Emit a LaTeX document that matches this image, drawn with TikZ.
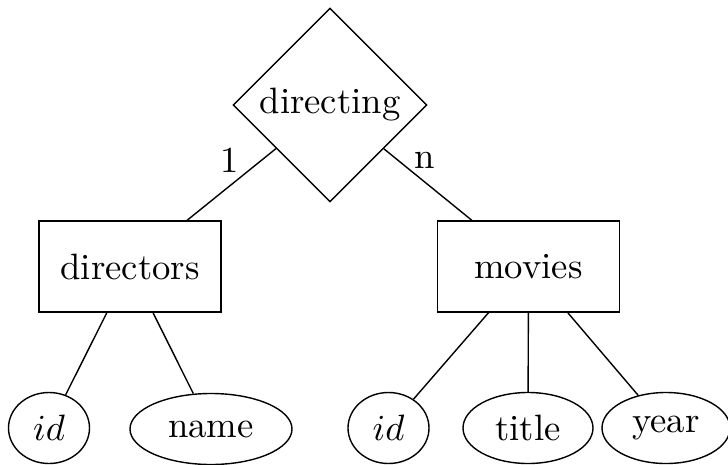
\documentclass[tikz,border=0pt]{standalone}
\usetikzlibrary{shapes.geometric}
\newcommand\bigtxt[1]{\scalebox{3.67}{#1}}
\begin{document}
\begin{tikzpicture}[x=1pt,y=-1pt,
  conn/.style={line width=1.4pt},
  rel/.style={draw,line width=1.4pt,diamond,aspect=1,minimum width=194pt,minimum height=194pt,inner sep=0pt},
  ent/.style={draw,line width=1.4pt,rectangle,minimum width=182pt,minimum height=91pt,inner sep=0pt},
  attr/.style={draw,line width=1.4pt,ellipse,inner sep=0pt,minimum height=71pt}]
\useasboundingbox (0,0) rectangle (728,464);
\node[rel] (dirg) at (330,105) {\bigtxt{directing}};
\node[ent] (drs) at (130,266.5) {\bigtxt{directors}};
\node[ent] (mov) at (528.5,266.5) {\bigtxt{movies}};
\node[attr,minimum width=81pt] (did) at (49,428) {\bigtxt{$id$}};
\node[attr,minimum width=162pt] (dname) at (211,429) {\bigtxt{name}};
\node[attr,minimum width=81pt] (mid) at (388.5,428) {\bigtxt{$id$}};
\node[attr,minimum width=130pt] (mtitle) at (528,428) {\bigtxt{title}};
\node[attr,minimum width=128pt] (myear) at (666,428) {\bigtxt{year}};
\node (one) at (230,160) {\bigtxt{1}};
\node (nn) at (425,160) {\bigtxt{n}};
\draw[conn] (dirg) -- (drs);
\draw[conn] (dirg) -- (mov);
\draw[conn] (drs) -- (did);
\draw[conn] (drs) -- (dname);
\draw[conn] (mov) -- (mid);
\draw[conn] (mov) -- (mtitle);
\draw[conn] (mov) -- (myear);
\end{tikzpicture}
\end{document}
